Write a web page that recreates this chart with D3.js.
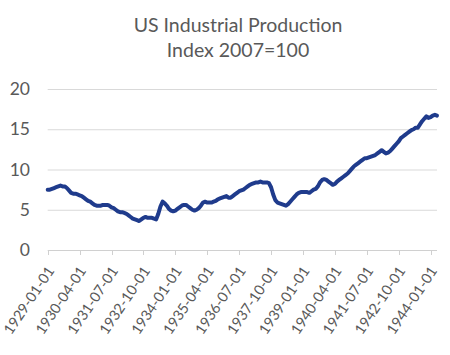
<!DOCTYPE html>
<html><head><meta charset="utf-8">
<script src="https://cdn.jsdelivr.net/npm/d3@7"></script>
<style>body{margin:0;background:#fff;}svg{display:block;}</style>
</head><body>
<svg id="c" width="450" height="355"></svg>
<script>
const titleLines = ["US Industrial Production", "Index 2007=100"];
const yTicks = [0, 5, 10, 15, 20];
const tickLabels = ["1929-01-01","1930-04-01","1931-07-01","1932-10-01","1934-01-01","1935-04-01","1936-07-01","1937-10-01","1939-01-01","1940-04-01","1941-07-01","1942-10-01","1944-01-01"];
const v1929 = [7.5,7.5,7.6,7.7,7.8,7.9,8.0,7.9,7.9,7.7,7.4,7.1];
const v1930 = [7.0,7.0,6.9,6.8,6.7,6.5,6.3,6.1,6.0,5.8,5.6,5.5];
const v1931 = [5.5,5.5,5.6,5.6,5.6,5.5,5.3,5.2,5.0,4.8,4.7,4.7];
const v1932 = [4.6,4.5,4.3,4.1,3.9,3.8,3.7,3.6,3.8,4.0,4.1,4.0];
const v1933 = [4.0,4.0,3.9,3.8,4.5,5.4,6.0,5.8,5.5,5.1,4.9,4.8];
const v1934 = [4.9,5.1,5.3,5.5,5.6,5.6,5.4,5.2,5.0,4.9,5.0,5.2];
const v1935 = [5.5,5.9,6.0,5.9,5.9,5.9,6.0,6.1,6.3,6.4,6.5,6.6];
const v1936 = [6.7,6.5,6.5,6.7,6.9,7.1,7.3,7.4,7.5,7.7,7.9,8.1];
const v1937 = [8.2,8.3,8.4,8.4,8.5,8.4,8.4,8.4,8.3,7.8,6.9,6.2];
const v1938 = [5.9,5.8,5.7,5.6,5.5,5.7,6.0,6.3,6.6,6.9,7.1,7.2];
const v1939 = [7.2,7.2,7.2,7.1,7.3,7.5,7.6,7.9,8.4,8.7,8.8,8.7];
const v1940 = [8.5,8.3,8.1,8.2,8.5,8.7,8.9,9.1,9.3,9.5,9.8,10.1];
const v1941 = [10.4,10.6,10.8,11.0,11.2,11.4,11.4,11.5,11.6,11.7,11.8,12.0];
const v1942 = [12.2,12.4,12.2,12.0,12.1,12.3,12.6,12.9,13.2,13.5,13.9,14.1];
const v1943 = [14.3,14.5,14.7,14.9,15.0,15.2,15.2,15.6,16.0,16.3,16.6,16.4];
const v1944 = [16.5,16.7,16.8,16.7];
const values = [].concat(v1929,v1930,v1931,v1932,v1933,v1934,v1935,v1936,v1937,v1938,v1939,v1940,v1941,v1942,v1943,v1944);

const svg = d3.select("#c");
const pLeft = 47.7, pRight = 437, pTop = 89, pBottom = 250;
const x = d3.scaleLinear().domain([0, values.length - 1]).range([pLeft, pRight]);
const y = d3.scaleLinear().domain([0, 20]).range([pBottom, pTop]);
const font = "Lato, 'Open Sans', sans-serif";
const gray = "#595959";

// title
svg.append("g").selectAll("text").data(titleLines).join("text")
  .attr("x", 238).attr("y", (d,i) => 32 + i*25)
  .attr("text-anchor", "middle").attr("font-family", font)
  .attr("font-size", 19.5).attr("fill", gray).text(d => d);

// gridlines
svg.append("g").selectAll("line").data(yTicks.filter(d => d > 0)).join("line")
  .attr("x1", pLeft).attr("x2", pRight).attr("y1", d => y(d)+0.5).attr("y2", d => y(d)+0.5)
  .attr("stroke", "#d9d9d9").attr("stroke-width", 1);

// y labels
svg.append("g").selectAll("text").data(yTicks).join("text")
  .attr("x", 30).attr("y", d => y(d)).attr("dy", "0.35em")
  .attr("text-anchor", "end").attr("font-family", font).attr("font-size", 17.5)
  .attr("fill", gray).text(d => d);

// x axis
const tickIdx = tickLabels.map((d,i) => i*15);
const xa = svg.append("g");
xa.append("line").attr("x1", pLeft).attr("x2", pRight).attr("y1", pBottom+0.5).attr("y2", pBottom+0.5)
  .attr("stroke", "#d0d0d0");
xa.selectAll("line.t").data(tickIdx).join("line").attr("class","t")
  .attr("x1", d => Math.round(x(d))+0.5).attr("x2", d => Math.round(x(d))+0.5)
  .attr("y1", pBottom).attr("y2", pBottom+5).attr("stroke", "#d0d0d0");
xa.selectAll("text").data(tickLabels).join("text")
  .attr("transform", (d,i) => `translate(${x(i*15)+3},${pBottom+18}) rotate(-56)`)
  .attr("text-anchor", "end").attr("dy", "0.35em")
  .attr("font-family", font).attr("font-size", 14.5).attr("fill", gray).text(d => d);

// line
svg.append("path").datum(values)
  .attr("d", d3.line().x((d,i) => x(i)).y(d => y(d)))
  .attr("fill", "none").attr("stroke", "#1f3b8c").attr("stroke-width", 4)
  .attr("stroke-linejoin", "round").attr("stroke-linecap", "round");
</script>
</body></html>
